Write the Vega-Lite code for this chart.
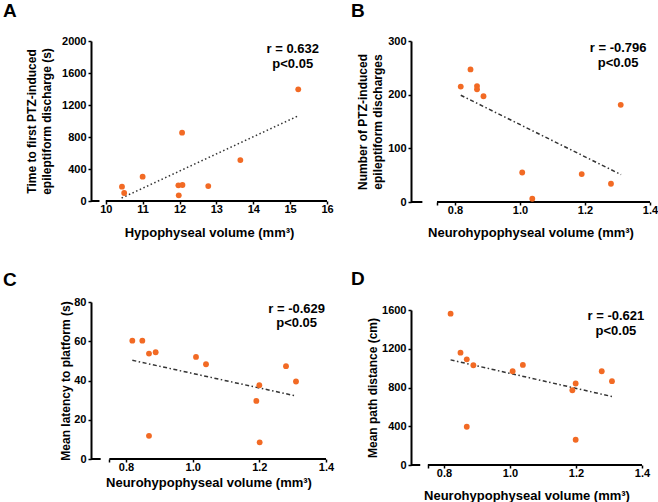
{
  "$schema": "https://vega.github.io/schema/vega-lite/v6.json",
  "autosize": {"type": "pad"},
  "padding": {"left": 3, "top": 1, "right": 5, "bottom": 2},
  "background": "white",
  "config": {
    "view": {"stroke": null},
    "font": "Liberation Sans",
    "axis": {
      "grid": false, "domainColor": "black", "domainWidth": 2,
      "tickColor": "black", "tickWidth": 1.5, "tickSize": 3, "tickCount": 20,
      "labelFont": "Liberation Sans", "labelFontSize": 11, "labelFontWeight": "bold", "labelColor": "black",
      "labelOverlap": false, "labelBound": false, "labelFlush": false,
      "titleFont": "Liberation Sans", "titleFontWeight": "bold", "titleColor": "black"
    },
    "axisX": {"domain": false, "titleFontSize": 13, "labelPadding": -1},
    "axisY": {"titleFontSize": 12, "labelPadding": 2, "titleLineHeight": 15.5, "format": "d"},
    "title": {"font": "Liberation Sans", "fontSize": 19, "fontWeight": "bold", "color": "black", "anchor": "start", "frame": "group", "baseline": "alphabetic", "offset": 0}
  },
  "spacing": 17,
  "hconcat": [
    {
      "spacing": 101,
      "bounds": "flush",
      "vconcat": [
        {
          "width": 236, "height": 160,
          "title": {"text": "A", "dx": -88, "dy": -10},
          "layer": [
            {
              "data": {"values": [{"x": 9.6, "x2": 9.83}, {"x": 10, "x2": 16}]},
              "mark": {"type": "rule", "color": "black", "strokeWidth": 2},
              "encoding": {
                "x": {"field": "x", "type": "quantitative", "scale": {"domain": [9.6, 16], "nice": false, "zero": false},
                      "axis": {"values": [10, 11, 12, 13, 14, 15, 16], "tickCount": 20, "format": "d", "labelOverlap": false, "title": "Hypophyseal volume (mm³)", "titlePadding": 12}},
                "x2": {"field": "x2"},
                "y": {"datum": 0, "type": "quantitative", "scale": {"domain": [0, 2000], "nice": false},
                      "axis": {"values": [0, 400, 800, 1200, 1600, 2000], "tickCount": 20, "labelOverlap": false, "title": ["Time to first PTZ-induced", "epileptiform discharge (s)"], "titlePadding": 8}}
              }
            },
            {
              "data": {"values": [{"x": 10.43, "y": 37}, {"x": 15.19, "y": 1058}]},
              "mark": {"type": "line", "color": "#333333", "strokeWidth": 1.5, "strokeDash": [1.5, 2.5]},
              "encoding": {"x": {"field": "x", "type": "quantitative"}, "y": {"field": "y", "type": "quantitative"}}
            },
            {
              "data": {"values": [{"x": 10.44, "y": 179}, {"x": 10.5, "y": 100}, {"x": 11.0, "y": 304}, {"x": 11.97, "y": 196}, {"x": 12.08, "y": 200}, {"x": 11.98, "y": 71}, {"x": 12.07, "y": 854}, {"x": 12.78, "y": 187}, {"x": 13.65, "y": 512}, {"x": 15.22, "y": 1396}]},
              "mark": {"type": "circle", "size": 34, "color": "#F26A24", "opacity": 1},
              "encoding": {"x": {"field": "x", "type": "quantitative"}, "y": {"field": "y", "type": "quantitative"}}
            },
            {
              "data": {"values": [{"x": 15.07, "y": 1850, "label": "r = 0.632\np<0.05"}]},
              "mark": {"type": "text", "fontSize": 13, "fontWeight": "bold", "align": "center", "baseline": "alphabetic", "lineBreak": "\n", "lineHeight": 14.7, "color": "black"},
              "encoding": {"x": {"field": "x", "type": "quantitative"}, "y": {"field": "y", "type": "quantitative"}, "text": {"field": "label"}}
            }
          ]
        },
        {
          "width": 235, "height": 157,
          "title": {"text": "C", "dx": -88, "dy": -2},
          "layer": [
            {
              "data": {"values": [{"x": 0.695, "x2": 0.724}, {"x": 0.75, "x2": 1.4}]},
              "mark": {"type": "rule", "color": "black", "strokeWidth": 2},
              "encoding": {
                "x": {"field": "x", "type": "quantitative", "scale": {"domain": [0.695, 1.4], "nice": false, "zero": false},
                      "axis": {"values": [0.75, 0.8, 1.0, 1.2, 1.4], "tickCount": 20, "labelOverlap": false, "labelExpr": "datum.value < 0.78 ? '' : format(datum.value, '.1f')", "title": "Neurohypophyseal volume (mm³)", "titlePadding": 4.5}},
                "x2": {"field": "x2"},
                "y": {"datum": 0, "type": "quantitative", "scale": {"domain": [0, 80], "nice": false},
                      "axis": {"values": [0, 20, 40, 60, 80], "tickCount": 20, "labelOverlap": false, "title": "Mean latency to platform (s)", "titlePadding": 1}}
              }
            },
            {
              "data": {"values": [{"x": 0.819, "y": 50.3}, {"x": 1.308, "y": 32.2}]},
              "mark": {"type": "line", "color": "#333333", "strokeWidth": 1.5, "strokeDash": [4, 2.5, 1.5, 2.5]},
              "encoding": {"x": {"field": "x", "type": "quantitative"}, "y": {"field": "y", "type": "quantitative"}}
            },
            {
              "data": {"values": [{"x": 0.819, "y": 60.3}, {"x": 0.849, "y": 60.3}, {"x": 0.869, "y": 53.7}, {"x": 0.889, "y": 54.4}, {"x": 1.01, "y": 52.0}, {"x": 1.04, "y": 48.3}, {"x": 0.869, "y": 11.8}, {"x": 1.2, "y": 37.6}, {"x": 1.191, "y": 29.6}, {"x": 1.201, "y": 8.5}, {"x": 1.28, "y": 47.3}, {"x": 1.31, "y": 39.5}]},
              "mark": {"type": "circle", "size": 34, "color": "#F26A24", "opacity": 1},
              "encoding": {"x": {"field": "x", "type": "quantitative"}, "y": {"field": "y", "type": "quantitative"}}
            },
            {
              "data": {"values": [{"x": 1.312, "y": 74.5, "label": "r = -0.629\np<0.05"}]},
              "mark": {"type": "text", "fontSize": 13, "fontWeight": "bold", "align": "center", "baseline": "alphabetic", "lineBreak": "\n", "lineHeight": 14.7, "color": "black"},
              "encoding": {"x": {"field": "x", "type": "quantitative"}, "y": {"field": "y", "type": "quantitative"}, "text": {"field": "label"}}
            }
          ]
        }
      ]
    },
    {
      "spacing": 108,
      "bounds": "flush",
      "vconcat": [
        {
          "width": 239, "height": 161,
          "title": {"text": "B", "dx": -60, "dy": -10.3},
          "layer": [
            {
              "data": {"values": [{"x": 0.665, "x2": 0.7}, {"x": 0.745, "x2": 1.4}]},
              "mark": {"type": "rule", "color": "black", "strokeWidth": 2},
              "encoding": {
                "x": {"field": "x", "type": "quantitative", "scale": {"domain": [0.665, 1.4], "nice": false, "zero": false},
                      "axis": {"values": [0.745, 0.8, 1.0, 1.2, 1.4], "tickCount": 20, "labelOverlap": false, "labelExpr": "datum.value < 0.78 ? '' : format(datum.value, '.1f')", "title": "Neurohypophyseal volume (mm³)", "titlePadding": 11}},
                "x2": {"field": "x2"},
                "y": {"datum": 0, "type": "quantitative", "scale": {"domain": [0, 300], "nice": false},
                      "axis": {"values": [0, 100, 200, 300], "tickCount": 20, "labelOverlap": false, "title": ["Number of PTZ-induced", "epileptiform discharges"], "titlePadding": 3}}
              }
            },
            {
              "data": {"values": [{"x": 0.818, "y": 199}, {"x": 1.311, "y": 51}]},
              "mark": {"type": "line", "color": "#333333", "strokeWidth": 1.5, "strokeDash": [4, 2.5, 1.5, 2.5]},
              "encoding": {"x": {"field": "x", "type": "quantitative"}, "y": {"field": "y", "type": "quantitative"}}
            },
            {
              "data": {"values": [{"x": 0.818, "y": 215}, {"x": 0.848, "y": 247}, {"x": 0.868, "y": 216}, {"x": 0.868, "y": 210}, {"x": 0.888, "y": 197}, {"x": 1.007, "y": 55}, {"x": 1.038, "y": 6}, {"x": 1.19, "y": 52}, {"x": 1.28, "y": 34}, {"x": 1.31, "y": 181}]},
              "mark": {"type": "circle", "size": 34, "color": "#F26A24", "opacity": 1},
              "encoding": {"x": {"field": "x", "type": "quantitative"}, "y": {"field": "y", "type": "quantitative"}}
            },
            {
              "data": {"values": [{"x": 1.302, "y": 279.5, "label": "r = -0.796\np<0.05"}]},
              "mark": {"type": "text", "fontSize": 13, "fontWeight": "bold", "align": "center", "baseline": "alphabetic", "lineBreak": "\n", "lineHeight": 14.7, "color": "black"},
              "encoding": {"x": {"field": "x", "type": "quantitative"}, "y": {"field": "y", "type": "quantitative"}, "text": {"field": "label"}}
            }
          ]
        },
        {
          "width": 231, "height": 155,
          "title": {"text": "D", "dx": -60, "dy": -11},
          "layer": [
            {
              "data": {"values": [{"x": 0.7, "x2": 0.728}, {"x": 0.751, "x2": 1.4}]},
              "mark": {"type": "rule", "color": "black", "strokeWidth": 2},
              "encoding": {
                "x": {"field": "x", "type": "quantitative", "scale": {"domain": [0.7, 1.4], "nice": false, "zero": false},
                      "axis": {"values": [0.751, 0.8, 1.0, 1.2, 1.4], "tickCount": 20, "labelOverlap": false, "labelExpr": "datum.value < 0.78 ? '' : format(datum.value, '.1f')", "title": "Neurohypophyseal volume (mm³)", "titlePadding": 11}},
                "x2": {"field": "x2"},
                "y": {"datum": 0, "type": "quantitative", "scale": {"domain": [0, 1600], "nice": false},
                      "axis": {"values": [0, 400, 800, 1200, 1600], "tickCount": 20, "labelOverlap": false, "title": "Mean path distance (cm)", "titlePadding": 2}}
              }
            },
            {
              "data": {"values": [{"x": 0.82, "y": 1085}, {"x": 1.309, "y": 707}]},
              "mark": {"type": "line", "color": "#333333", "strokeWidth": 1.5, "strokeDash": [4, 2.5, 1.5, 2.5]},
              "encoding": {"x": {"field": "x", "type": "quantitative"}, "y": {"field": "y", "type": "quantitative"}}
            },
            {
              "data": {"values": [{"x": 0.82, "y": 1562}, {"x": 0.85, "y": 1160}, {"x": 0.869, "y": 1091}, {"x": 0.889, "y": 1030}, {"x": 0.869, "y": 395}, {"x": 1.008, "y": 968}, {"x": 1.039, "y": 1033}, {"x": 1.189, "y": 772}, {"x": 1.199, "y": 841}, {"x": 1.199, "y": 261}, {"x": 1.278, "y": 968}, {"x": 1.309, "y": 865}]},
              "mark": {"type": "circle", "size": 34, "color": "#F26A24", "opacity": 1},
              "encoding": {"x": {"field": "x", "type": "quantitative"}, "y": {"field": "y", "type": "quantitative"}}
            },
            {
              "data": {"values": [{"x": 1.321, "y": 1497, "label": "r = -0.621\np<0.05"}]},
              "mark": {"type": "text", "fontSize": 13, "fontWeight": "bold", "align": "center", "baseline": "alphabetic", "lineBreak": "\n", "lineHeight": 14.7, "color": "black"},
              "encoding": {"x": {"field": "x", "type": "quantitative"}, "y": {"field": "y", "type": "quantitative"}, "text": {"field": "label"}}
            }
          ]
        }
      ]
    }
  ]
}
